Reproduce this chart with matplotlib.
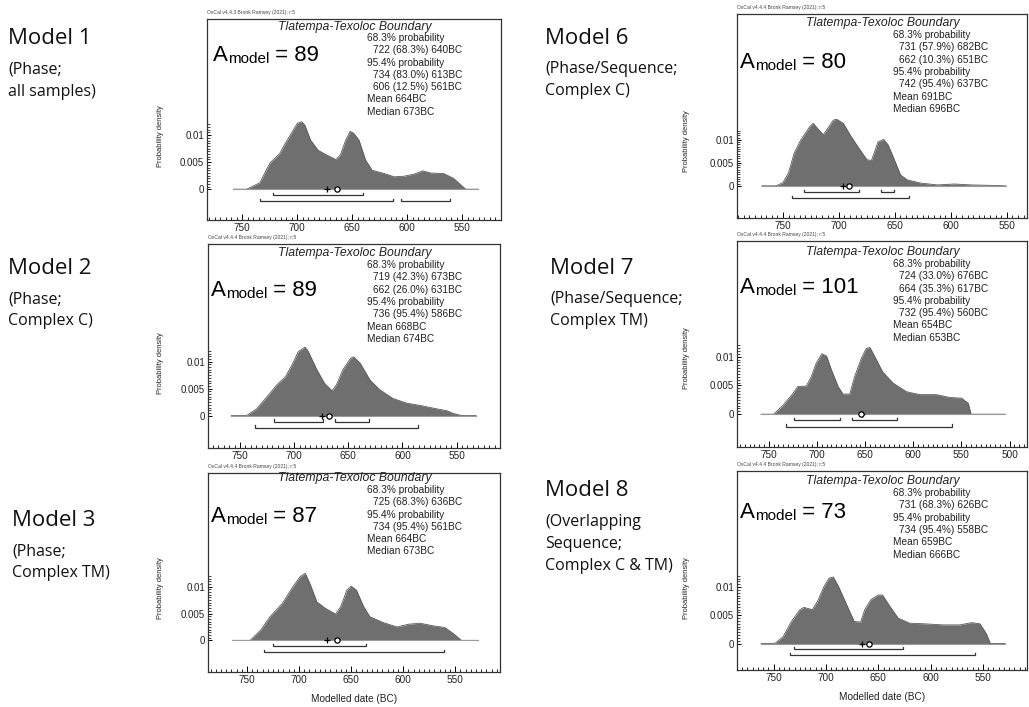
import numpy as np
import matplotlib
matplotlib.use("Agg")
import matplotlib.pyplot as plt
from matplotlib.ticker import MultipleLocator, FixedLocator, FuncFormatter
from matplotlib.transforms import blended_transform_factory

W, H = 1029, 707
OX = "Liberation Sans"
LAB = "Open Sans"

# ---- data (years BC, probability density) ----
m1_yr = [758, 746, 734, 725, 716, 710, 700, 696, 693, 688, 681, 673, 665, 661, 656, 652, 649, 644,
         638, 632, 621, 612, 603, 594, 586, 579, 567, 558, 551, 547, 536]
m1_pd = [0, 0, 0.0012, 0.0048, 0.0066, 0.0088, 0.0122, 0.0125, 0.0118, 0.0091, 0.0072, 0.0063,
         0.0055, 0.0063, 0.0091, 0.0107, 0.0104, 0.0091, 0.0054, 0.0035, 0.0029, 0.0023, 0.0024,
         0.0028, 0.0034, 0.0030, 0.0029, 0.0020, 0.0007, 0, 0]
m1_r68 = [(722, 640)]
m1_r95 = [(734, 613), (606, 561)]
m1_stats = [("68.3% probability", 0), ("722 (68.3%) 640BC", 1), ("95.4% probability", 0),
            ("734 (83.0%) 613BC", 1), ("606 (12.5%) 561BC", 1), ("Mean 664BC", 0), ("Median 673BC", 0)]
m1_mean, m1_median, m1_A = 664, 673, 89

m2_yr = [758, 744, 735, 725, 716, 708, 702, 696, 690, 687, 679, 672, 665, 661, 655, 648, 645, 639,
         630, 621, 609, 596, 584, 572, 559, 553, 545, 532]
m2_pd = [0, 0, 0.0012, 0.0035, 0.0057, 0.0072, 0.0094, 0.0119, 0.0127, 0.0119, 0.0085, 0.0060,
         0.0046, 0.0057, 0.0085, 0.0106, 0.0109, 0.0097, 0.0066, 0.0048, 0.0032, 0.0023, 0.0019,
         0.0014, 0.0009, 0.0004, 0, 0]
m2_r68 = [(719, 673), (662, 631)]
m2_r95 = [(736, 586)]
m2_stats = [("68.3% probability", 0), ("719 (42.3%) 673BC", 1), ("662 (26.0%) 631BC", 1),
            ("95.4% probability", 0), ("736 (95.4%) 586BC", 1), ("Mean 668BC", 0), ("Median 674BC", 0)]
m2_mean, m2_median, m2_A = 668, 674, 89

m3_yr = [764, 747, 737, 728, 716, 707, 699, 694, 689, 683, 675, 665, 660, 654, 650, 645, 638, 632,
         619, 606, 595, 584, 571, 560, 552, 544, 528]
m3_pd = [0, 0, 0.0019, 0.0044, 0.0069, 0.0097, 0.0119, 0.0125, 0.0103, 0.0072, 0.0060, 0.0049,
         0.0063, 0.0094, 0.0101, 0.0094, 0.0063, 0.0044, 0.0033, 0.0025, 0.0030, 0.0032, 0.0027,
         0.0024, 0.0013, 0, 0]
m3_r68 = [(725, 636)]
m3_r95 = [(734, 561)]
m3_stats = [("68.3% probability", 0), ("725 (68.3%) 636BC", 1), ("95.4% probability", 0),
            ("734 (95.4%) 561BC", 1), ("Mean 664BC", 0), ("Median 673BC", 0)]
m3_mean, m3_median, m3_A = 664, 673, 87

m6_yr = [769, 756, 750, 745, 740, 734, 726, 723, 719, 714, 710, 705, 702, 696, 689, 681, 675, 671,
         668, 665, 660, 656, 651, 645, 639, 627, 612, 597, 582, 564, 551]
m6_pd = [0, 0, 0.0007, 0.0028, 0.0071, 0.0100, 0.0129, 0.0136, 0.0125, 0.0111, 0.0125, 0.0143,
         0.0145, 0.0136, 0.0107, 0.0078, 0.0057, 0.0055, 0.0075, 0.0096, 0.0101, 0.0089, 0.0060,
         0.0024, 0.0013, 0.0006, 0.0002, 0.0004, 0.0002, 0.0001, 0]
m6_r68 = [(731, 682), (662, 651)]
m6_r95 = [(742, 637)]
m6_stats = [("68.3% probability", 0), ("731 (57.9%) 682BC", 1), ("662 (10.3%) 651BC", 1),
            ("95.4% probability", 0), ("742 (95.4%) 637BC", 1), ("Mean 691BC", 0), ("Median 696BC", 0)]
m6_mean, m6_median, m6_A = 691, 696, 80

m7_yr = [758, 745, 735, 725, 720, 711, 706, 701, 695, 690, 685, 678, 673, 666, 661, 654, 649, 645,
         639, 632, 621, 607, 593, 576, 562, 550, 543, 540, 505]
m7_pd = [0, 0, 0.0016, 0.0036, 0.0048, 0.0049, 0.0065, 0.0088, 0.0105, 0.0101, 0.0077, 0.0048,
         0.0035, 0.0035, 0.0065, 0.0097, 0.0114, 0.0116, 0.0097, 0.0074, 0.0054, 0.0039, 0.0034,
         0.0034, 0.0029, 0.0028, 0.0019, 0, 0]
m7_r68 = [(724, 676), (664, 617)]
m7_r95 = [(732, 560)]
m7_stats = [("68.3% probability", 0), ("724 (33.0%) 676BC", 1), ("664 (35.3%) 617BC", 1),
            ("95.4% probability", 0), ("732 (95.4%) 560BC", 1), ("Mean 654BC", 0), ("Median 653BC", 0)]
m7_mean, m7_median, m7_A = 654, 653, 101

m8_yr = [762, 749, 741, 733, 725, 721, 713, 708, 702, 697, 693, 688, 681, 673, 667, 663, 657, 650,
         646, 639, 631, 620, 607, 588, 572, 561, 553, 547, 543, 529]
m8_pd = [0, 0, 0.0012, 0.0039, 0.0060, 0.0064, 0.0060, 0.0075, 0.0101, 0.0116, 0.0118, 0.0101,
         0.0072, 0.0039, 0.0038, 0.0060, 0.0078, 0.0086, 0.0086, 0.0066, 0.0045, 0.0036, 0.0035,
         0.0033, 0.0033, 0.0037, 0.0035, 0.0018, 0, 0]
m8_r68 = [(731, 626)]
m8_r95 = [(734, 558)]
m8_stats = [("68.3% probability", 0), ("731 (68.3%) 626BC", 1), ("95.4% probability", 0),
            ("734 (95.4%) 558BC", 1), ("Mean 659BC", 0), ("Median 666BC", 0)]
m8_mean, m8_median, m8_A = 659, 666, 73

# model captions on the left of each panel
captions = [
    (8, 39, ["(Phase;", "all samples)"], "Model 1"),
    (8, 268, ["(Phase;", "Complex C)"], "Model 2"),
    (12, 520, ["(Phase;", "Complex TM)"], "Model 3"),
    (545, 38, ["(Phase/Sequence;", "Complex C)"], "Model 6"),
    (550, 268, ["(Phase/Sequence;", "Complex TM)"], "Model 7"),
    (545, 491, ["(Overlapping", "Sequence;", "Complex C & TM)"], "Model 8"),
]

# layout of each panel in pixels: box (l, t, r, b), xlim, ylim, title/stats/A/ylabel positions
panels = [
    dict(yr=m1_yr, pd=m1_pd, r68=m1_r68, r95=m1_r95, stats=m1_stats, mean=m1_mean, med=m1_median,
         A=m1_A, ver="v4.4.3", box=(207, 19, 501, 220), xlim=(782, 515), ylim=(-0.0057, 0.0315),
         title=(355, 27), st=(367, 38), ap=(213, 61), ylx=161, xlabel=False),
    dict(yr=m2_yr, pd=m2_pd, r68=m2_r68, r95=m2_r95, stats=m2_stats, mean=m2_mean, med=m2_median,
         A=m2_A, ver="v4.4.4", box=(208, 244, 500, 448), xlim=(779.5, 510), ylim=(-0.006, 0.0318),
         title=(355, 253), st=(367, 265), ap=(211, 296), ylx=161, xlabel=False),
    dict(yr=m3_yr, pd=m3_pd, r68=m3_r68, r95=m3_r95, stats=m3_stats, mean=m3_mean, med=m3_median,
         A=m3_A, ver="v4.4.4", box=(208, 473, 500, 672), xlim=(787.5, 507), ylim=(-0.0059, 0.0312),
         title=(355, 478), st=(367, 490), ap=(211, 522), ylx=161, xlabel=True),
    dict(yr=m6_yr, pd=m6_pd, r68=m6_r68, r95=m6_r95, stats=m6_stats, mean=m6_mean, med=m6_median,
         A=m6_A, ver="v4.4.4", box=(737, 14, 1027, 218), xlim=(791, 532), ylim=(-0.007, 0.0374),
         title=(883, 23), st=(893, 35), ap=(740, 68), ylx=687, xlabel=False),
    dict(yr=m7_yr, pd=m7_pd, r68=m7_r68, r95=m7_r95, stats=m7_stats, mean=m7_mean, med=m7_median,
         A=m7_A, ver="v4.4.4", box=(737, 241, 1027, 447), xlim=(783, 482), ylim=(-0.0057, 0.0301),
         title=(883, 252), st=(893, 264), ap=(740, 293), ylx=687, xlabel=False),
    dict(yr=m8_yr, pd=m8_pd, r68=m8_r68, r95=m8_r95, stats=m8_stats, mean=m8_mean, med=m8_median,
         A=m8_A, ver="v4.4.4", box=(737, 471, 1027, 670), xlim=(785, 508), ylim=(-0.0047, 0.0306),
         title=(883, 481), st=(893, 493), ap=(740, 518), ylx=687, xlabel=True),
]


def fx(x):
    return x / W


def fy(y):
    return 1 - y / H


def bracket(ax, ranges, y, h):
    for a, b in ranges:
        ax.plot([a, a, b, b], [y + h, y, y, y + h], color="#333333", lw=0.9, solid_joinstyle="miter")


fig = plt.figure(figsize=(W / 100, H / 100), dpi=100)

for p in panels:
    l, t, r, b = p["box"]
    ax = fig.add_axes([fx(l), fy(b), (r - l) / W, (b - t) / H])
    ax.set_xlim(*p["xlim"])
    ax.set_ylim(*p["ylim"])
    yr = np.array(p["yr"])
    pd_ = np.array(p["pd"])
    ax.fill_between(yr, 0, pd_, color="#6f6f6f", lw=0)
    ax.plot(yr, pd_, color="#5a5a5a", lw=0.6)
    ax.plot([yr[0], yr[-1]], [0, 0], color="#9a9a9a", lw=0.8)
    span = p["ylim"][1] - p["ylim"][0]
    bracket(ax, p["r68"], -0.030 * span, 0.012 * span)
    bracket(ax, p["r95"], -0.060 * span, 0.012 * span)
    ax.plot([p["med"]], [0], marker="+", color="black", ms=4.5, mew=0.9)
    ax.plot([p["mean"]], [0], marker="o", mfc="white", mec="black", ms=3.8, mew=0.9)

    ax.xaxis.set_major_locator(MultipleLocator(50))
    ax.xaxis.set_minor_locator(MultipleLocator(5))
    ax.yaxis.set_major_locator(FixedLocator([0, 0.005, 0.01]))
    ax.yaxis.set_minor_locator(FixedLocator(np.arange(0, 0.0121, 0.0005)))
    ax.yaxis.set_major_formatter(FuncFormatter(lambda v, _: "%g" % v))
    ax.tick_params(axis="x", which="major", direction="in", length=4, width=0.7, labelsize=7.2, pad=2)
    ax.tick_params(axis="x", which="minor", direction="in", length=2, width=0.6)
    ax.tick_params(axis="y", which="major", direction="in", length=3, width=0.7, labelsize=7, pad=2)
    ax.tick_params(axis="y", which="minor", direction="in", length=2, width=0.5)
    for lab in ax.get_xticklabels() + ax.get_yticklabels():
        lab.set_family(OX)
        lab.set_color("#222222")
    for s in ax.spines.values():
        s.set_linewidth(0.9)
        s.set_color("#333333")

    blend = blended_transform_factory(fig.transFigure, ax.transData)
    ax.text(fx(p["ylx"]), 0.0098, "Probability density", rotation=90, transform=blend,
            ha="center", va="center", fontsize=5.4, family=OX, color="#222222")
    if p["xlabel"]:
        fig.text(fx((l + r) / 2), fy(b + 27), "Modelled date (BC)", ha="center", va="center",
                 fontsize=7.2, family=OX, color="#222222")

    fig.text(fx(l), fy(t - 4), "OxCal %s Bronk Ramsey (2021); r:5" % p["ver"], fontsize=3.6,
             family=OX, color="#444444", va="bottom")
    fig.text(fx(p["title"][0]), fy(p["title"][1]), "Tlatempa-Texoloc Boundary", style="italic",
             ha="center", va="center", fontsize=8.8, family=OX, color="#222222")
    sx, sy = p["st"]
    for i, (line, ind) in enumerate(p["stats"]):
        fig.text(fx(sx + 6 * ind), fy(sy + 12.3 * i), line, ha="left", va="center",
                 fontsize=7.3, family=OX, color="#222222")

    ta = fig.text(fx(p["ap"][0]), fy(p["ap"][1]), "A", fontsize=16, family=OX, va="baseline")
    tm = ax.annotate("model", xy=(1, 0), xycoords=ta, va="bottom", ha="left", fontsize=11,
                     family=OX, annotation_clip=False)
    ax.annotate(" = %d" % p["A"], xy=(1, 0), xycoords=tm, va="bottom", ha="left", fontsize=16,
                family=OX, annotation_clip=False)

for x, y, sub, head in captions:
    fig.text(fx(x), fy(y), head, fontsize=16, family=LAB, va="center", ha="left", color="#111111")
    for j, s in enumerate(sub):
        fig.text(fx(x), fy(y + 31 + 22 * j), s, fontsize=11.5, family=LAB, va="center", ha="left",
                 color="#111111")

fig.savefig("out.png", dpi=100)
